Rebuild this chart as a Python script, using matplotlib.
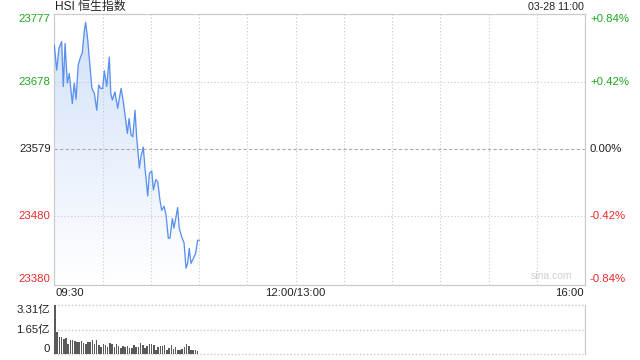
import numpy as np
import matplotlib
matplotlib.use("Agg")
import matplotlib.pyplot as plt
from matplotlib.colors import LinearSegmentedColormap

plt.rcParams['font.family'] = ['Liberation Sans', 'Noto Sans CJK SC', 'DejaVu Sans']

# ---- data ----
title = "HSI 恒生指数"
stamp = "03-28 11:00"
prev_close = 23579
y_ticks = [23777, 23678, 23579, 23480, 23380]
pct_labels = ["+0.84%", "+0.42%", "0.00%", "-0.42%", "-0.84%"]
x_labels = ["09:30", "12:00/13:00", "16:00"]

minutes = [0, 1.5, 2.9, 4.6, 5.6, 6.7, 8.1, 9.3, 11.2, 12.4, 13.5, 14.9, 16.4, 17.4,
           18.7, 19.5, 20.8, 22.2, 23.4, 24.9, 26.4, 27.6, 28.9, 30.1, 31.1, 32.6,
           34.2, 35.1, 36.1, 37.7, 39.4, 41.5, 42.9, 44.1, 45.4, 46.5, 47.7, 48.8,
           50.2, 51.2, 52.9, 53.9, 55.3, 56.4, 58.1, 59.1, 60.6, 61.6, 63.1, 64.3,
           65.7, 66.8, 68.2, 69.5, 70.9, 71.9, 73.4, 74.4, 75.5, 76.7, 77.7, 79.2,
           80.7, 81.9, 82.9, 83.9, 85.0, 86.4, 87.9, 89.1, 90.0]
prices = [23732, 23695, 23727, 23737, 23671, 23734, 23676, 23690, 23646, 23676,
          23652, 23703, 23715, 23720, 23754, 23765, 23739, 23700, 23668, 23661,
          23636, 23673, 23668, 23668, 23694, 23671, 23714, 23661, 23651, 23663,
          23639, 23668, 23649, 23627, 23602, 23624, 23600, 23597, 23636, 23597,
          23551, 23568, 23582, 23551, 23510, 23543, 23547, 23519, 23534, 23531,
          23504, 23489, 23495, 23482, 23448, 23448, 23477, 23463, 23477, 23493,
          23463, 23450, 23441, 23404, 23411, 23433, 23411, 23418, 23426, 23445,
          23445]

vol_ticks = [3.31, 1.65, 0]
vol_tick_labels = ["3.31亿", "1.65亿", "0"]
volumes = [3.31, 1.51, 1.17, 1.13, 1.06, 1.10, 0.72, 0.95, 0.95, 0.90, 0.83, 0.83,
           0.90, 0.77, 0.72, 0.83, 0.83, 0.99, 0.68, 0.95, 0.61, 0.50, 0.72, 0.61,
           0.50, 0.77, 0.68, 0.50, 0.68, 0.54, 0.45, 0.54, 0.50, 0.54, 0.45, 0.45,
           0.61, 0.50, 0.50, 0.77, 0.61, 0.45, 0.54, 0.68, 0.68, 0.61, 0.32, 0.50,
           0.54, 0.54, 0.61, 0.32, 0.43, 0.61, 0.38, 0.50, 0.32, 0.32, 0.38, 0.50,
           0.72, 0.56, 0.32, 0.32, 0.27, 0.23, 0.05]

GREEN = "#1ea51e"
RED = "#ee2b2b"
BLACK = "#222222"
GRID = "#c8c8c8"
LINE = "#5b91ee"
label_colors = [GREEN, GREEN, BLACK, RED, RED]

fig = plt.figure(figsize=(6.4, 3.6), dpi=100)
W, H = 640, 360
L, R = 54.3, 585.0
ax = fig.add_axes([L / W, 1 - 284.5 / H, (R - L) / W, (284.5 - 14.3) / H])
axv = fig.add_axes([L / W, 1 - 354.3 / H, (R - L) / W, (354.3 - 305) / H])

xmax = 330
ymin, ymax = y_ticks[-1], y_ticks[0]
ax.set_xlim(0, xmax)
ax.set_ylim(ymin, ymax)

# gradient fill under the line
cmap = LinearSegmentedColormap.from_list("g", ["#ffffff", "#d0e0f9"])
grad = np.linspace(0, 1, 256).reshape(-1, 1)
im = ax.imshow(grad, aspect="auto", cmap=cmap, origin="lower",
               extent=[0, xmax, ymin, ymax], zorder=1)
poly = ax.fill_between(minutes, prices, ymin, color="none", lw=0)
im.set_clip_path(poly.get_paths()[0], transform=ax.transData)

ax.plot(minutes, prices, color=LINE, lw=0.95, zorder=3)

# grids
for xg in range(30, xmax, 30):
    ax.axvline(xg, color=GRID, lw=0.8, ls=(0, (1, 2)), zorder=2)
for yv in [y_ticks[1], y_ticks[3]]:
    ax.axhline(yv, color=GRID, lw=0.8, ls=(0, (1, 2)), zorder=2)
ax.axhline(prev_close, color="#aaaaaa", lw=0.8, ls=(0, (3, 2)), zorder=2)

for s in ax.spines.values():
    s.set_color("#cccccc")
    s.set_linewidth(0.9)
ax.set_xticks([])
ax.set_yticks([])

ytr = ax.get_yaxis_transform()
fs = 8.2
for i, (yv, lab, pl, c) in enumerate(zip(y_ticks, [str(v) for v in y_ticks], pct_labels, label_colors)):
    va = "center"
    if i == 0:
        va = "top"
    elif i == len(y_ticks) - 1:
        va = "bottom"
    ax.text(-0.0068, yv, lab, transform=ytr, ha="right", va=va, color=c, fontsize=fs)
    ax.text(1.0094, yv, pl, transform=ytr, ha="left", va=va, color=c, fontsize=fs)

ax.text(0.975, 0.012, "sina.com", transform=ax.transAxes, ha="right", va="bottom",
        color="#d0d0d0", fontsize=7.5)

# x labels
ax.text(0.002, -0.033, x_labels[0], transform=ax.transAxes, ha="left", va="center", color=BLACK, fontsize=fs)
ax.text(0.455, -0.033, x_labels[1], transform=ax.transAxes, ha="center", va="center", color=BLACK, fontsize=fs)
ax.text(0.998, -0.033, x_labels[2], transform=ax.transAxes, ha="right", va="center", color=BLACK, fontsize=fs)

# title
fig.text(55 / W, 1 - 7 / H, title, ha="left", va="center", color=BLACK, fontsize=8.6)
fig.text(584 / W, 1 - 7 / H, stamp, ha="right", va="center", color=BLACK, fontsize=7.7)

# volume
vx = np.linspace(0, 90, len(volumes))
axv.bar(vx, volumes, width=0.95, color="#5a5a5a", lw=0, align="edge", zorder=3)
axv.set_xlim(0, xmax)
axv.set_ylim(0, vol_ticks[0])
for yv in vol_ticks:
    axv.axhline(yv, color=GRID, lw=1.0, ls=(0, (1, 1.5)), zorder=1, clip_on=False)
for k in ["top", "bottom", "left"]:
    axv.spines[k].set_visible(False)
axv.spines["right"].set_color("#cccccc")
axv.spines["right"].set_linewidth(0.9)
axv.set_xticks([])
axv.set_yticks([])
vtr = axv.get_yaxis_transform()
for i, (yv, lab) in enumerate(zip(vol_ticks, vol_tick_labels)):
    va = "top" if i == 0 else ("bottom" if i == len(vol_ticks) - 1 else "center")
    axv.text(-0.0083, yv, lab, transform=vtr, ha="right", va=va, color=BLACK, fontsize=fs)

fig.savefig("out.png", dpi=100)
